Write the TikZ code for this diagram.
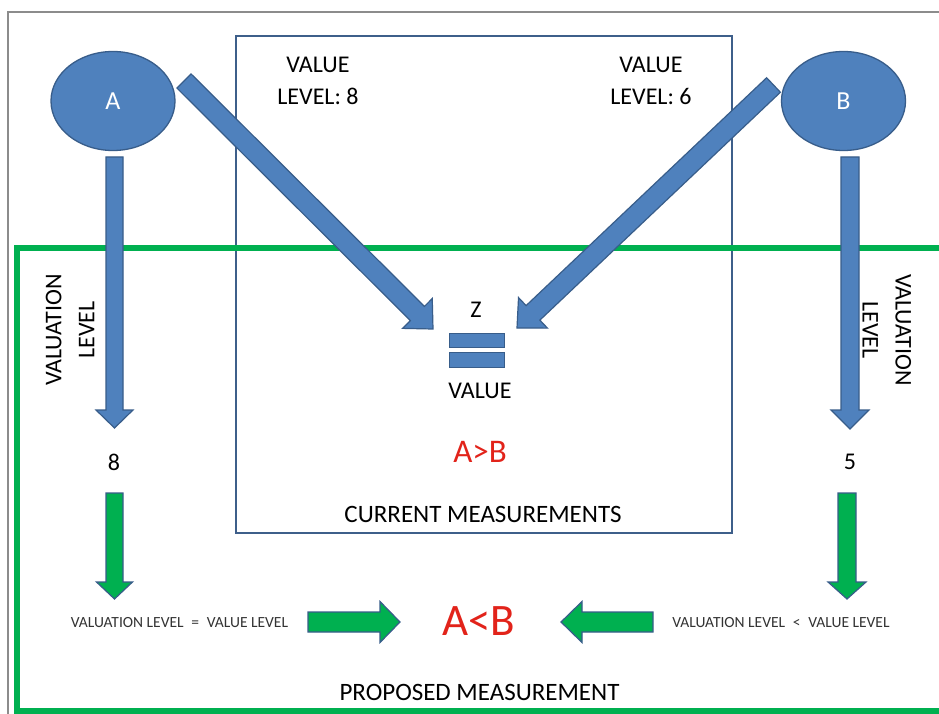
\documentclass[tikz,border=0pt]{standalone}
\usepackage{fontspec}
\setmainfont{Carlito}
\usetikzlibrary{calc,shapes.geometric}

\definecolor{officeblue}{HTML}{4F81BD}
\definecolor{officeline}{HTML}{385D8A}
\definecolor{officegreen}{HTML}{00B050}
\definecolor{framegray}{HTML}{8C8C8C}
\definecolor{boxline}{HTML}{3E5F8A}
\definecolor{resultred}{HTML}{E2231A}

% Block arrow drawn as a polygon: #1 style, #2 tail, #3 tip,
% #4 half shaft width, #5 half head width, #6 head length
\newcommand\blockarrow[6]{%
  \coordinate (ba-h) at ($(#3)!#6!(#2)$);
  \draw[#1] ($(#2)!#4!90:(#3)$) -- ($(ba-h)!#4!90:(#3)$) -- ($(ba-h)!#5!90:(#3)$)
    -- (#3) -- ($(ba-h)!#5!-90:(#3)$) -- ($(ba-h)!#4!-90:(#3)$)
    -- ($(#2)!#4!-90:(#3)$) -- cycle;
}

\tikzset{
  bluearrow/.style={fill=officeblue, draw=officeline, line width=1.2pt, line join=miter},
  greenarrow/.style={fill=officegreen, draw=officeline, line width=1.2pt, line join=miter},
  party/.style={ellipse, fill=officeblue, draw=officeline, line width=1.3pt,
    minimum width=124pt, minimum height=99pt, inner sep=0pt,
    text=white, font=\fontsize{26}{30}\selectfont},
  eqbar/.style={fill=officeblue, draw=officeline, line width=1pt},
  label/.style={inner sep=0pt, align=center, font=\fontsize{24}{32}\selectfont},
  smalltext/.style={inner sep=0pt, font=\fontsize{15.5}{18}\selectfont, text=black!80},
  redtext/.style={inner sep=0pt, text=resultred},
}

\begin{document}
\begin{tikzpicture}[x=1pt, y=-1pt]
  \useasboundingbox (0,0) rectangle (939,714);
  \fill[white] (0,0) rectangle (939,714);

  % outer frame, current-measurement box, proposed-measurement box
  \draw[framegray, line width=2pt] (7.5,12) rectangle (960,740);
  \draw[boxline, line width=2pt] (236,36) rectangle (732,533);
  \draw[officegreen, line width=6pt] (16.5,248) rectangle (960,711);

  % the two parties
  \node[party] (A) at (113,101) {A};
  \node[party] (B) at (843.5,101) {B};

  % texts
  \node[label] (lvA) at (318,80.5) {VALUE\\LEVEL: 8};
  \node[label] (lvB) at (651,80.5) {VALUE\\LEVEL: 6};
  \node[label, rotate=90, font=\fontsize{24}{33}\selectfont] (vlA) at (70,330) {VALUATION\\LEVEL};
  \node[label, rotate=-90, font=\fontsize{24}{33}\selectfont] (vlB) at (887,330) {VALUATION\\LEVEL};
  \node[label] (valA) at (114,462) {8};
  \node[label] (valB) at (850,462) {5};
  \node[label, font=\fontsize{24}{28}\selectfont] (z) at (476,310) {Z};
  \node[label] (value) at (480,391) {VALUE};
  \node[redtext, font=\fontsize{33}{38}\selectfont] (agtb) at (480,452) {A>B};
  \node[label, font=\fontsize{25}{30}\selectfont] (cur) at (483,514) {CURRENT MEASUREMENTS};
  \node[label, font=\fontsize{25}{30}\selectfont] (prop) at (479.5,692) {PROPOSED MEASUREMENT};
  \node[redtext, font=\fontsize{45}{50}\selectfont] (altb) at (478.5,621) {A<B};
  \node[smalltext] (eqA) at (179.5,622.5) {VALUATION LEVEL\hspace{0.5em}=\hspace{0.5em}VALUE LEVEL};
  \node[smalltext] (eqB) at (781,622.5) {VALUATION LEVEL\hspace{0.5em}<\hspace{0.5em}VALUE LEVEL};

  % equality sign
  \draw[eqbar] (449,333) rectangle (504,347);
  \draw[eqbar] (449,352) rectangle (504,367);
  \coordinate (eq) at (476.5,350);

  % arrow ends
  \coordinate (a-down) at (114.5,157);
  \coordinate (a-diag) at (184,81);
  \coordinate (b-down) at (850,157);
  \coordinate (b-diag) at (773.5,85);
  \coordinate (valA-in) at (114.5,428);
  \coordinate (valB-in) at (850,429);
  \coordinate (eq-left) at (433,329);
  \coordinate (eq-right) at (517,328);
  \coordinate (valA-out) at (114.5,493);
  \coordinate (valB-out) at (847,493);
  \coordinate (eqA-in) at (114.5,599);
  \coordinate (eqB-in) at (847,599);
  \coordinate (eqA-out) at (308,622);
  \coordinate (eqB-out) at (653,622);
  \coordinate (altb-left) at (400,622);
  \coordinate (altb-right) at (561,622);

  % blue arrows
  \blockarrow{bluearrow}{a-down}{valA-in}{8.5pt}{18.5pt}{18pt}
  \blockarrow{bluearrow}{b-down}{valB-in}{9pt}{19pt}{19pt}
  \blockarrow{bluearrow}{a-diag}{eq-left}{10pt}{21pt}{22pt}
  \blockarrow{bluearrow}{b-diag}{eq-right}{10pt}{21pt}{22pt}

  % green arrows
  \blockarrow{greenarrow}{valA-out}{eqA-in}{8.5pt}{18pt}{17pt}
  \blockarrow{greenarrow}{valB-out}{eqB-in}{9pt}{19pt}{17pt}
  \blockarrow{greenarrow}{eqA-out}{altb-left}{10pt}{20.5pt}{20pt}
  \blockarrow{greenarrow}{eqB-out}{altb-right}{10pt}{20.5pt}{21pt}
\end{tikzpicture}
\end{document}
